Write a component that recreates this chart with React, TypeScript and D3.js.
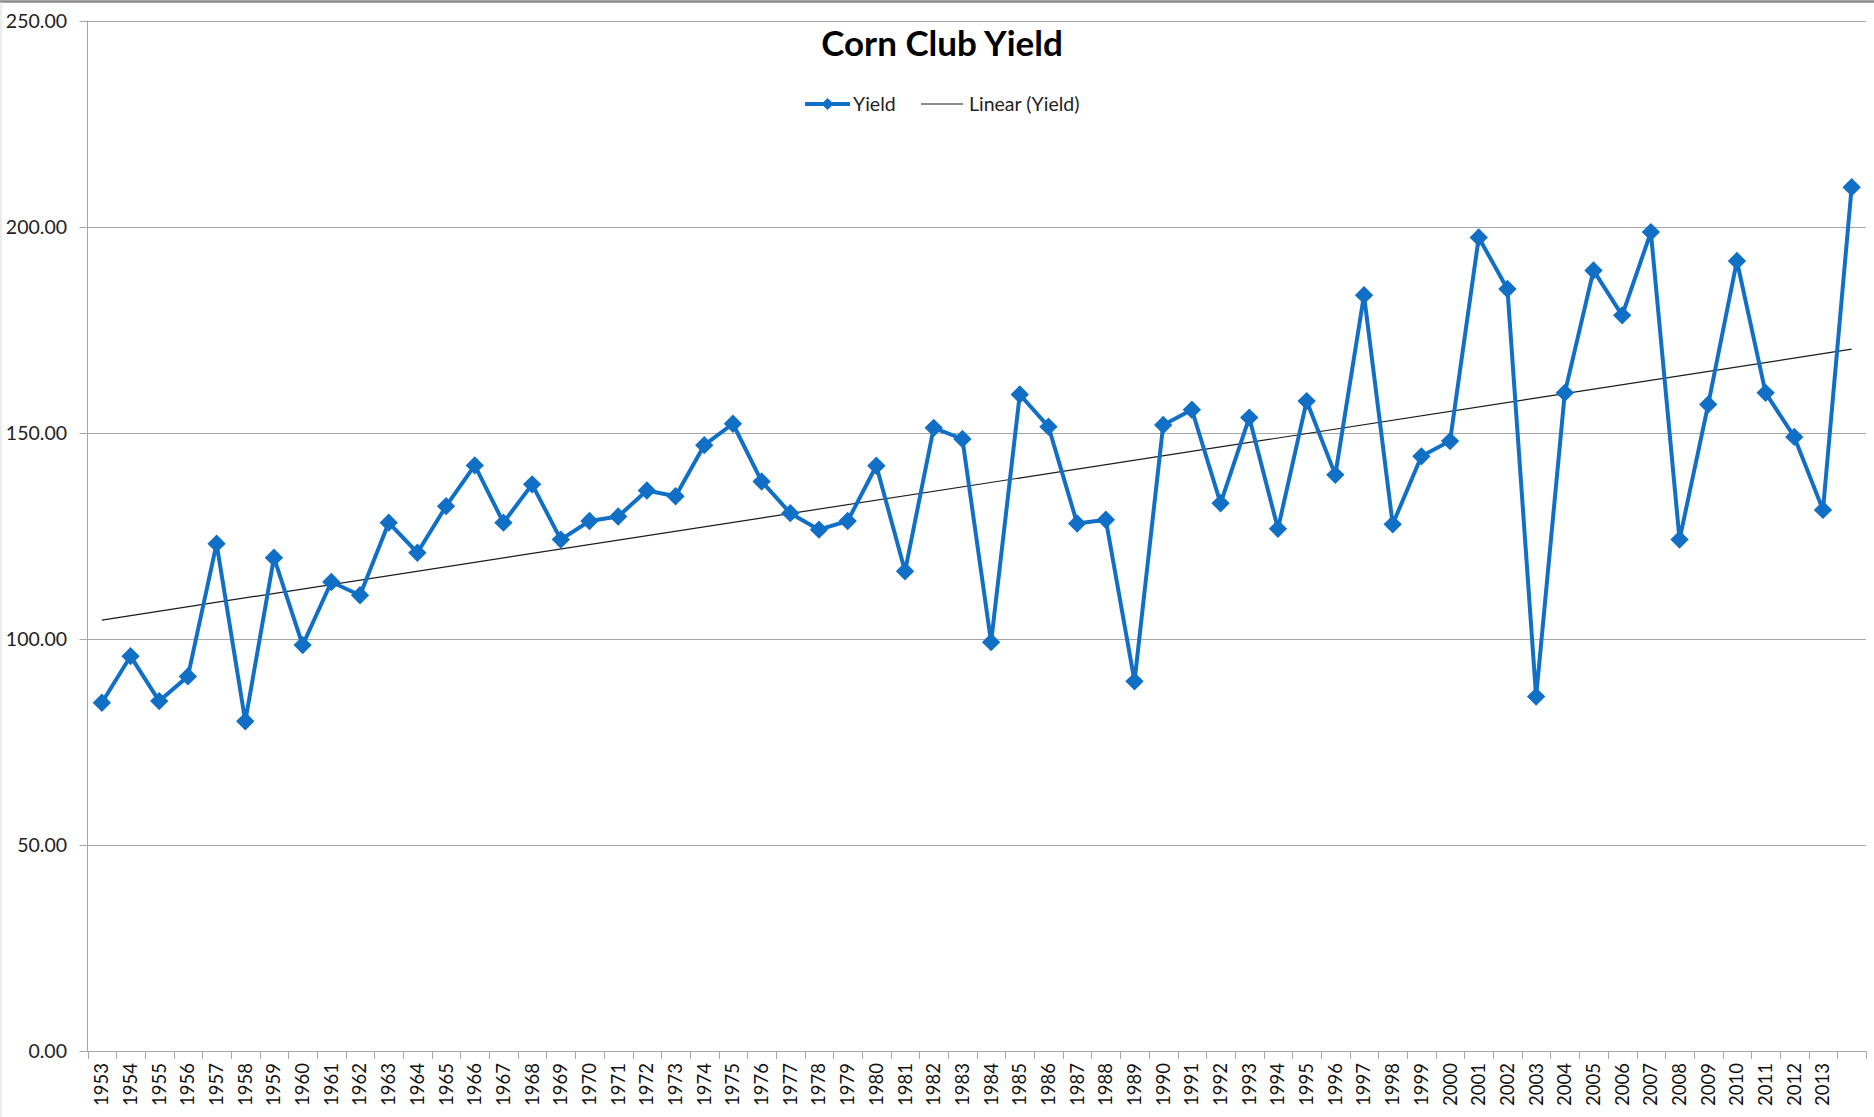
import { useEffect, useRef } from 'react';
import * as d3 from 'd3';

const years: string[] = [
  '1953', '1954', '1955', '1956', '1957', '1958', '1959', '1960', '1961', '1962',
  '1963', '1964', '1965', '1966', '1967', '1968', '1969', '1970', '1971', '1972',
  '1973', '1974', '1975', '1976', '1977', '1978', '1979', '1980', '1981', '1982',
  '1983', '1984', '1985', '1986', '1987', '1988', '1989', '1990', '1991', '1992',
  '1993', '1994', '1995', '1996', '1997', '1998', '1999', '2000', '2001', '2002',
  '2003', '2004', '2005', '2006', '2007', '2008', '2009', '2010', '2011', '2012',
  '2013', '',
];

const yieldValues: number[] = [
  84.5, 95.8, 84.9, 90.9, 123.1, 80.0, 119.7, 98.5, 113.8, 110.6,
  128.2, 120.9, 132.2, 142.1, 128.2, 137.5, 124.1, 128.6, 129.7, 136.0,
  134.6, 147.0, 152.2, 138.2, 130.5, 126.5, 128.6, 142.0, 116.4, 151.2,
  148.5, 99.2, 159.3, 151.5, 128.0, 128.9, 89.7, 151.9, 155.6, 132.9,
  153.7, 126.7, 157.7, 139.8, 183.4, 127.8, 144.3, 148.0, 197.4, 184.9,
  86.0, 159.7, 189.4, 178.5, 198.7, 124.1, 156.9, 191.7, 159.7, 149.0,
  131.3, 209.6,
];

const yTicks: number[] = [0, 50, 100, 150, 200, 250];

const BLUE = '#1170C6';
const FONT = 'Lato, "Open Sans", sans-serif';

const App = () => {
  const chartRef = useRef<HTMLDivElement>(null);

  useEffect(() => {
    document.body.style.margin = '0';
    if (!chartRef.current) return;
    d3.select(chartRef.current).selectAll('*').remove();

    const width = 1874;
    const height = 1117;
    const left = 87.5;
    const right = 1866;
    const top = 20.7;
    const bottom = 1051;

    const svg = d3.select(chartRef.current)
      .append('svg')
      .attr('width', width)
      .attr('height', height)
      .style('display', 'block')
      .style('background', '#fff');

    // chart area border
    svg.append('line')
      .attr('x1', 0).attr('x2', width)
      .attr('y1', 1.5).attr('y2', 1.5)
      .attr('stroke', '#8a8a8a').attr('stroke-width', 2.5);
    svg.append('line')
      .attr('x1', 1).attr('x2', 1)
      .attr('y1', 2).attr('y2', height)
      .attr('stroke', '#d9d9d9').attr('stroke-width', 1);

    const x = d3.scaleBand<string>()
      .domain(years.map((_, i) => String(i)))
      .range([left, right]);
    const xc = (i: number) => x(String(i))! + x.bandwidth() / 2;

    const y = d3.scaleLinear().domain([0, 250]).range([bottom, top]);

    // gridlines + y labels
    svg.append('g')
      .selectAll('line')
      .data(yTicks)
      .join('line')
      .attr('x1', left - 8)
      .attr('x2', right)
      .attr('y1', d => Math.round(y(d)) + 0.5)
      .attr('y2', d => Math.round(y(d)) + 0.5)
      .attr('stroke', '#a6a6a6')
      .attr('stroke-width', 1);

    svg.append('g')
      .selectAll('text')
      .data(yTicks)
      .join('text')
      .attr('x', 67)
      .attr('y', d => y(d))
      .attr('dy', '0.35em')
      .attr('text-anchor', 'end')
      .style('font-family', FONT)
      .style('font-size', '19.5px')
      .attr('fill', '#222')
      .text(d => d3.format('.2f')(d));

    // y axis line
    svg.append('line')
      .attr('x1', left).attr('x2', left)
      .attr('y1', top).attr('y2', bottom)
      .attr('stroke', '#a6a6a6');

    // x ticks at band boundaries
    const boundaries = d3.range(years.length + 1).map(i => left + i * x.step());
    svg.append('g')
      .selectAll('line')
      .data(boundaries)
      .join('line')
      .attr('x1', d => Math.round(d) + 0.5)
      .attr('x2', d => Math.round(d) + 0.5)
      .attr('y1', bottom)
      .attr('y2', bottom + 8)
      .attr('stroke', '#a6a6a6');

    svg.append('g')
      .selectAll('text')
      .data(years)
      .join('text')
      .attr('transform', (_, i) => `translate(${xc(i)},${bottom + 12}) rotate(-90)`)
      .attr('text-anchor', 'end')
      .attr('dy', '0.35em')
      .style('font-family', FONT)
      .style('font-size', '18.5px')
      .attr('fill', '#111')
      .text(d => d);

    // linear trend (least squares)
    const n = yieldValues.length;
    const xs = d3.range(1, n + 1);
    const mx = d3.mean(xs)!;
    const my = d3.mean(yieldValues)!;
    const slope = d3.sum(xs, (xv, i) => (xv - mx) * (yieldValues[i] - my)) /
      d3.sum(xs, xv => (xv - mx) ** 2);
    const icpt = my - slope * mx;

    svg.append('line')
      .attr('x1', xc(0))
      .attr('y1', y(icpt + slope * 1))
      .attr('x2', xc(n - 1))
      .attr('y2', y(icpt + slope * n))
      .attr('stroke', '#1a1a1a')
      .attr('stroke-width', 1.2);

    // yield line
    const line = d3.line<number>()
      .x((_, i) => xc(i))
      .y(d => y(d));

    svg.append('path')
      .datum(yieldValues)
      .attr('fill', 'none')
      .attr('stroke', BLUE)
      .attr('stroke-width', 4)
      .attr('stroke-linejoin', 'round')
      .attr('d', line);

    const diamond = d3.symbol().type(d3.symbolDiamond2).size(215);
    svg.append('g')
      .selectAll('path')
      .data(yieldValues)
      .join('path')
      .attr('transform', (d, i) => `translate(${xc(i)},${y(d)})`)
      .attr('d', diamond)
      .attr('fill', BLUE);

    // title
    svg.append('text')
      .attr('x', 942)
      .attr('y', 56)
      .attr('text-anchor', 'middle')
      .style('font-family', FONT)
      .style('font-size', '35px')
      .style('font-weight', 'bold')
      .attr('fill', '#000')
      .text('Corn Club Yield');

    // legend
    const lg = svg.append('g');
    lg.append('line')
      .attr('x1', 805).attr('x2', 850)
      .attr('y1', 104).attr('y2', 104)
      .attr('stroke', BLUE).attr('stroke-width', 4);
    lg.append('path')
      .attr('transform', 'translate(827.5,104)')
      .attr('d', d3.symbol().type(d3.symbolDiamond2).size(95))
      .attr('fill', BLUE);
    lg.append('text')
      .attr('x', 853).attr('y', 110.5)
      .style('font-family', FONT)
      .style('font-size', '19.5px')
      .attr('fill', '#222')
      .text('Yield');
    lg.append('line')
      .attr('x1', 921).attr('x2', 963)
      .attr('y1', 104).attr('y2', 104)
      .attr('stroke', '#1a1a1a').attr('stroke-width', 1.2);
    lg.append('text')
      .attr('x', 969).attr('y', 110.5)
      .style('font-family', FONT)
      .style('font-size', '19.5px')
      .attr('fill', '#222')
      .text('Linear (Yield)');
  }, []);

  return <div ref={chartRef} />;
};

export default App;
